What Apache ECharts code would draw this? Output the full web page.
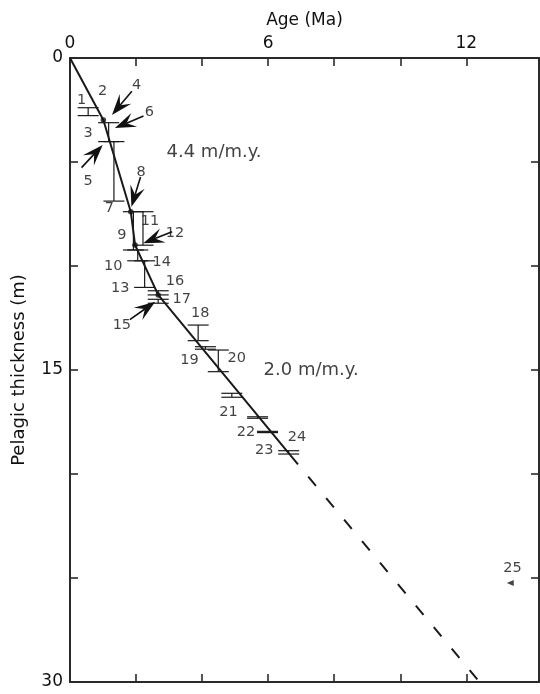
<!DOCTYPE html>
<html>
<head>
<meta charset="utf-8">
<script src="https://cdn.jsdelivr.net/npm/echarts@6/dist/echarts.min.js"></script>
<style>
  html, body { margin: 0; padding: 0; background: #ffffff; }
  #chart { width: 540px; height: 694px; }
</style>
</head>
<body>
<div id="chart"></div>
<script>
// Tick positions and labelled tick values
const ageTicks = [0, 2, 4, 6, 8, 10, 12];
const ageTickLabels = [0, 6, 12];
const thicknessTicks = [0, 5, 10, 15, 20, 25, 30];
const thicknessTickLabels = [0, 15, 30];

// Accumulation curve through dated levels: age (Ma) vs pelagic thickness (m)
const curveAge = [0, 1.01, 1.84, 1.97, 2.67, 6.67];
const curveThickness = [0, 2.98, 7.39, 8.99, 11.39, 19.09];

// Extrapolation below the deepest dated level
const extrapAge = [6.67, 12.4];
const extrapThickness = [19.09, 30];

// Dated levels shown as dots
const dotAge = [1.01, 1.84, 1.97, 2.67];
const dotThickness = [2.98, 7.39, 8.99, 11.39];

// Thickness ranges of samples: age, top and bottom of interval
const rangeAge =    [0.55, 1.17, 1.33, 1.92, 2.21, 2.05, 2.26, 2.67, 2.67, 3.88, 4.10, 4.49, 4.90, 5.68, 5.98, 6.62];
const rangeTop =    [2.39, 3.11, 4.02, 7.39, 7.39, 9.23, 9.75, 11.19, 11.60, 12.84, 13.88, 14.04, 16.12, 17.25, 17.95, 18.88];
const rangeBottom = [2.77, 4.02, 6.88, 9.23, 9.00, 9.75, 11.03, 11.39, 11.79, 13.59, 14.00, 15.08, 16.31, 17.32, 18.01, 19.04];

// Sample numbers and where they are written
const sampleIds =       ['1', '2', '3', '4', '5', '6', '7', '8', '9', '10', '11', '12', '13', '14', '15', '16', '17', '18', '19', '20', '21', '22', '23', '24', '25'];
const sampleLabelAge =  [0.35, 0.99, 0.55, 2.02, 0.55, 2.40, 1.19, 2.15, 1.57, 1.31, 2.42, 3.18, 1.52, 2.78, 1.57, 3.18, 3.38, 3.94, 3.62, 5.05, 4.80, 5.33, 5.88, 6.87, 13.40];
const sampleLabelThk =  [2.02, 1.62, 3.62, 1.30, 5.91, 2.63, 7.21, 5.51, 8.51, 10.03, 7.87, 8.43, 11.07, 9.84, 12.84, 10.75, 11.60, 12.27, 14.52, 14.44, 17.05, 17.97, 18.88, 18.21, 24.52];

// Arrows pointing at samples: tip position and heading of the shaft (screen degrees)
const arrowIds = ['4', '5', '6', '8', '12', '15'];
const arrowAge = [1.27, 0.99, 1.36, 1.86, 2.22, 2.58];
const arrowThk = [2.74, 4.18, 3.37, 7.15, 8.91, 11.72];
const arrowHeading = [-50, 133, -23, -73, -22, 145];

// Sample 25, off the curve
const outlierAge = [13.33];
const outlierThk = [25.24];

// Accumulation rates written beside the curve
const rateText = ['4.4 m/m.y.', '2.0 m/m.y.'];
const rateAge = [4.36, 7.30];
const rateThk = [4.52, 15.0];

const FONT = "'DejaVu Sans', 'Liberation Sans', Arial, sans-serif";
const INK = '#111111';

const chart = echarts.init(document.getElementById('chart'), null, { renderer: 'canvas' });

const zip = (a, b) => a.map((v, i) => [v, b[i]]);

const frameAxisLine = { show: true, onZero: false, lineStyle: { color: '#2a2a2a', width: 2 } };
const innerTick = (vals) => ({
  show: true, inside: true, length: 8, customValues: vals,
  lineStyle: { color: '#2a2a2a', width: 1.6 }
});

const option = {
  backgroundColor: '#ffffff',
  animation: false,
  grid: { left: 70, right: 1, top: 58, bottom: 12, containLabel: false, outerBoundsMode: 'none' },
  xAxis: [
    {
      type: 'value', position: 'top', min: 0, max: 14.2,
      name: 'Age (Ma)', nameLocation: 'middle', nameGap: 29,
      nameTextStyle: { fontFamily: FONT, fontSize: 17, color: INK },
      axisLine: frameAxisLine, axisTick: innerTick(ageTicks),
      axisLabel: {
        margin: 6, fontFamily: FONT, fontSize: 17, color: INK,
        customValues: ageTickLabels
      },
      splitLine: { show: false }
    },
    {
      type: 'value', position: 'bottom', min: 0, max: 14.2,
      axisLine: frameAxisLine, axisTick: innerTick(ageTicks),
      axisLabel: { show: false }, splitLine: { show: false }
    }
  ],
  yAxis: [
    {
      type: 'value', inverse: true, position: 'left', min: 0, max: 30,
      name: 'Pelagic thickness (m)', nameLocation: 'middle', nameGap: 42, nameRotate: 90,
      nameTextStyle: { fontFamily: FONT, fontSize: 18, color: INK },
      axisLine: frameAxisLine, axisTick: innerTick(thicknessTicks),
      axisLabel: {
        margin: 7, fontFamily: FONT, fontSize: 17, color: INK,
        customValues: thicknessTickLabels
      },
      splitLine: { show: false }
    },
    {
      type: 'value', inverse: true, position: 'right', min: 0, max: 30,
      axisLine: frameAxisLine, axisTick: innerTick(thicknessTicks),
      axisLabel: { show: false }, splitLine: { show: false }
    }
  ],
  series: [
    {
      // thickness ranges with end caps
      type: 'custom',
      data: rangeAge.map((a, i) => [a, rangeTop[i], rangeBottom[i]]),
      renderItem: function (params, api) {
        const p1 = api.coord([api.value(0), api.value(1)]);
        const p2 = api.coord([api.value(0), api.value(2)]);
        const hw = 10.5;
        const st = { stroke: '#1a1a1a', lineWidth: 1.2, fill: null };
        return {
          type: 'group',
          children: [
            { type: 'line', shape: { x1: p1[0], y1: p1[1], x2: p2[0], y2: p2[1] }, style: st },
            { type: 'line', shape: { x1: p1[0] - hw, y1: p1[1], x2: p1[0] + hw, y2: p1[1] }, style: st },
            { type: 'line', shape: { x1: p2[0] - hw, y1: p2[1], x2: p2[0] + hw, y2: p2[1] }, style: st }
          ]
        };
      },
      z: 3
    },
    {
      type: 'line', data: zip(curveAge, curveThickness),
      showSymbol: false, symbol: 'none',
      lineStyle: { color: '#1a1a1a', width: 2 }, z: 4
    },
    {
      type: 'line', data: zip(extrapAge, extrapThickness),
      showSymbol: false, symbol: 'none',
      lineStyle: { color: '#1a1a1a', width: 2, type: [12, 16] }, z: 4
    },
    {
      type: 'scatter', data: zip(dotAge, dotThickness),
      symbol: 'circle', symbolSize: 5.5,
      itemStyle: { color: '#141414' }, z: 5
    },
    {
      type: 'scatter', data: zip(outlierAge, outlierThk),
      symbol: 'triangle', symbolSize: [6, 7], symbolRotate: 90,
      itemStyle: { color: '#141414' }, z: 5
    },
    {
      // arrowheads with short shafts
      type: 'custom',
      data: arrowAge.map((a, i) => [a, arrowThk[i], arrowHeading[i]]),
      renderItem: function (params, api) {
        const tip = api.coord([api.value(0), api.value(1)]);
        const ang = api.value(2) * Math.PI / 180;
        const ux = Math.cos(ang), uy = Math.sin(ang);
        const nx = -uy, ny = ux;
        const L = 21, W = 7.5, notch = 0.6, shaft = 10;
        const P = (s, t) => [tip[0] + ux * s + nx * t, tip[1] + uy * s + ny * t];
        const a = P(L * notch, 0), b = P(L + shaft, 0);
        return {
          type: 'group',
          children: [
            {
              type: 'polygon',
              shape: { points: [P(0, 0), P(L, W), a, P(L, -W)] },
              style: { fill: '#111111' }
            },
            {
              type: 'line',
              shape: { x1: a[0], y1: a[1], x2: b[0], y2: b[1] },
              style: { stroke: '#111111', lineWidth: 1.6 }
            }
          ]
        };
      },
      z: 6
    },
    {
      // sample numbers
      type: 'scatter', symbolSize: 0, silent: true,
      data: sampleIds.map((id, i) => ({ name: id, value: [sampleLabelAge[i], sampleLabelThk[i]] })),
      label: {
        show: true, position: 'inside', formatter: p => p.name,
        fontFamily: FONT, fontSize: 14.5, color: INK, align: 'center', verticalAlign: 'middle'
      },
      z: 7
    },
    {
      // accumulation rates
      type: 'scatter', symbolSize: 0, silent: true,
      data: rateText.map((t, i) => ({ name: t, value: [rateAge[i], rateThk[i]] })),
      label: {
        show: true, position: 'inside', formatter: p => p.name,
        fontFamily: FONT, fontSize: 18, color: INK, align: 'center', verticalAlign: 'middle'
      },
      z: 7
    }
  ]
};

chart.setOption(option);
</script>
</body>
</html>
